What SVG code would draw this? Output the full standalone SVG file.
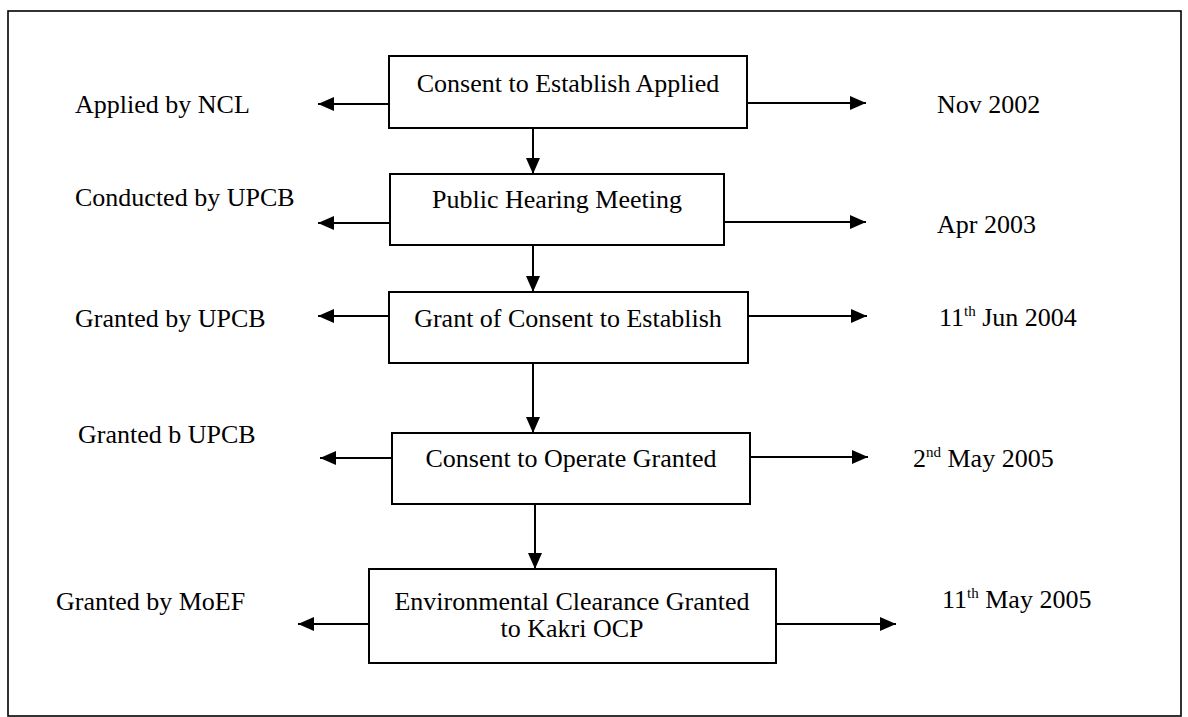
<svg xmlns="http://www.w3.org/2000/svg" width="1188" height="717" viewBox="0 0 1188 717">
  <defs>
    <marker id="arrow" viewBox="0 0 16 14" refX="16" refY="7" markerWidth="16" markerHeight="14" markerUnits="userSpaceOnUse" orient="auto">
      <path d="M0,0 L16,7 L0,14 Z" fill="#000"/>
    </marker>
    <style>
      .box { fill: #fff; stroke: #000; stroke-width: 2; }
      .frame { fill: none; stroke: #000; stroke-width: 1.6; }
      .t { font-family: "Liberation Serif", "Times New Roman", serif; font-size: 26px; fill: #000; }
      .c { text-anchor: middle; }
      .sup { font-size: 15px; }
      .link { stroke: #000; stroke-width: 2; fill: none; marker-end: url(#arrow); }
    </style>
  </defs>
  <rect width="1188" height="717" fill="#fff"/>
  <rect class="frame" x="8" y="11" width="1173" height="705"/>

  <!-- process steps -->
  <g id="step1">
    <rect class="box" x="389" y="56" width="358" height="72"/>
    <text class="t c" x="568" y="92">Consent to Establish Applied</text>
  </g>
  <g id="step2">
    <rect class="box" x="390" y="174" width="334" height="71"/>
    <text class="t c" x="557" y="208">Public Hearing Meeting</text>
  </g>
  <g id="step3">
    <rect class="box" x="389" y="292" width="359" height="71"/>
    <text class="t c" x="568" y="327">Grant of Consent to Establish</text>
  </g>
  <g id="step4">
    <rect class="box" x="392" y="433" width="358" height="71"/>
    <text class="t c" x="571" y="467">Consent to Operate Granted</text>
  </g>
  <g id="step5">
    <rect class="box" x="369" y="569" width="407" height="94"/>
    <text class="t c" x="572" y="610">Environmental Clearance Granted</text>
    <text class="t c" x="572" y="637">to Kakri OCP</text>
  </g>

  <!-- agency labels -->
  <g id="agency1"><text class="t" x="75" y="113">Applied by NCL</text></g>
  <g id="agency2"><text class="t" x="75" y="206">Conducted by UPCB</text></g>
  <g id="agency3"><text class="t" x="75" y="327">Granted by UPCB</text></g>
  <g id="agency4"><text class="t" x="78" y="443">Granted b UPCB</text></g>
  <g id="agency5"><text class="t" x="56" y="610">Granted by MoEF</text></g>

  <!-- date labels -->
  <g id="date1"><text class="t" x="937" y="113">Nov 2002</text></g>
  <g id="date2"><text class="t" x="937" y="233">Apr 2003</text></g>
  <g id="date3"><text class="t" x="939" y="326">11<tspan class="sup" dy="-10">th</tspan><tspan dy="10"> Jun 2004</tspan></text></g>
  <g id="date4"><text class="t" x="913" y="467">2<tspan class="sup" dy="-10">nd</tspan><tspan dy="10"> May 2005</tspan></text></g>
  <g id="date5"><text class="t" x="942" y="608">11<tspan class="sup" dy="-10">th</tspan><tspan dy="10"> May 2005</tspan></text></g>

  <!-- connectors -->
  <g id="connectors">
    <line class="link" x1="533" y1="128" x2="533" y2="174"/>
    <line class="link" x1="533" y1="245" x2="533" y2="292"/>
    <line class="link" x1="533" y1="363" x2="533" y2="433"/>
    <line class="link" x1="535" y1="504" x2="535" y2="569"/>

    <line class="link" x1="389" y1="104" x2="318" y2="104"/>
    <line class="link" x1="390" y1="223" x2="318" y2="223"/>
    <line class="link" x1="389" y1="316" x2="318" y2="316"/>
    <line class="link" x1="392" y1="458" x2="320" y2="458"/>
    <line class="link" x1="369" y1="624" x2="298" y2="624"/>

    <line class="link" x1="747" y1="103" x2="866" y2="103"/>
    <line class="link" x1="724" y1="222" x2="866" y2="222"/>
    <line class="link" x1="748" y1="316" x2="867" y2="316"/>
    <line class="link" x1="750" y1="457" x2="868" y2="457"/>
    <line class="link" x1="776" y1="624" x2="896" y2="624"/>
  </g>
</svg>
